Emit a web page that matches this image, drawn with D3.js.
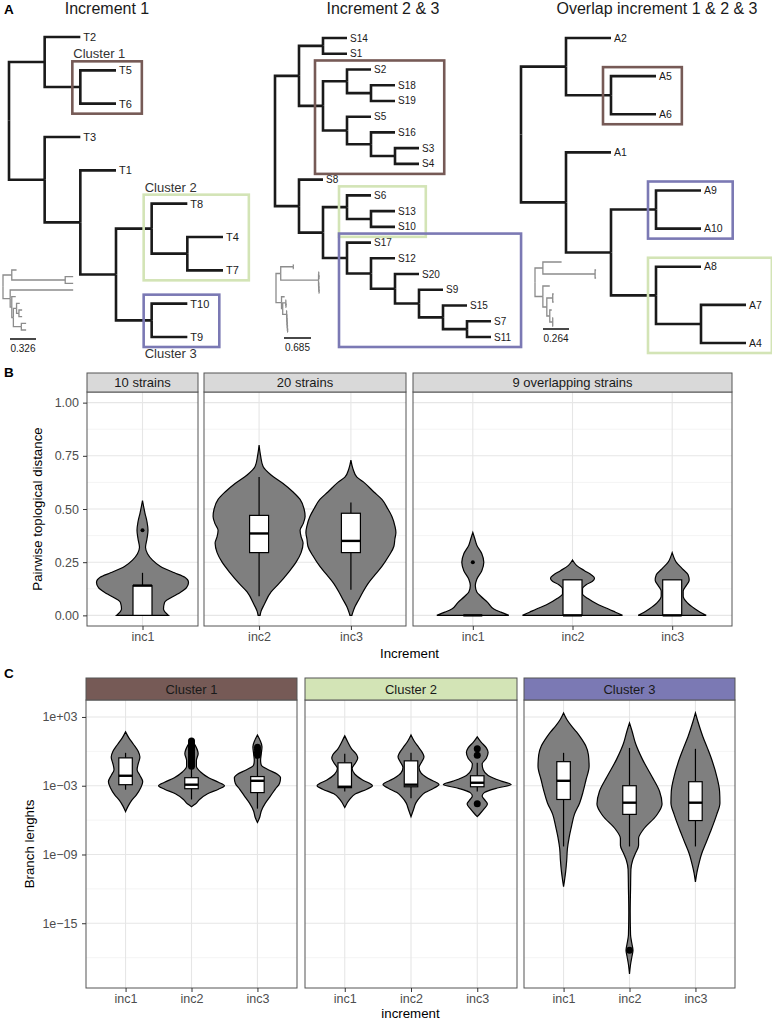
<!DOCTYPE html>
<html>
<head>
<meta charset="utf-8">
<script src="https://cdn.jsdelivr.net/npm/d3@7/dist/d3.min.js"></script>
<style>
body { margin: 0; background: #fff; }
svg text { font-family: "Liberation Sans", Arial, sans-serif; }
</style>
</head>
<body>
<svg width="772" height="1021"></svg>
<script>
// ---------- panel A data: tree topologies (newick) ----------
var tree1 = "((T2,(T5,T6)),(T3,(T1,((T8,(T4,T7)),(T10,T9)))));";
var tree2 = "(((S14,S1),((S2,(S18,S19)),(S5,(S16,(S3,S4))))),(S8,((S6,(S13,S10)),(S17,(S12,(S20,(S9,(S15,(S7,S11)))))))));";
var tree3 = "((A2,(A5,A6)),(A1,((A9,A10),(A8,(A7,A4)))));";

// same trees with branch lengths (small grey phylograms)
var mini1 = "((T2:0.06,(T5:0.10,T6:0.10):0.67):0.11,(T3:0.79,(T1:0.05,((T8:0.04,(T4:0.04,T7:0.04):0.03):0.04,(T10:0.06,T9:0.06):0.10):0.02):0.02):0.09);";
var mini2 = "(((S14:0.01,S1:0.01):0.32,((S2:0.01,(S18:0.005,S19:0.005):0.005):0.005,(S5:0.01,(S16:0.005,(S3:0.005,S4:0.005):0.005):0.005):0.005):0.96):0.12,(S8:0.08,((S6:0.01,(S13:0.005,S10:0.005):0.005):0.08,(S17:0.01,(S12:0.005,(S20:0.005,(S9:0.005,(S15:0.005,(S7:0.005,S11:0.005):0.005):0.005):0.005):0.005):0.005):0.1):0.03):0.14);";
var mini3 = "((A2:0.19,(A5:0.01,A6:0.01):0.53):0.08,(A1:0.07,((A9:0.01,A10:0.01):0.06,(A8:0.02,(A7:0.005,A4:0.005):0.03):0.03):0.04):0.08);";

var scaleBars = [0.326, 0.685, 0.264];
var treeTitles = ["Increment 1", "Increment 2 & 3", "Overlap increment 1 & 2 & 3"];
var clusterNames = ["Cluster 1", "Cluster 2", "Cluster 3"];
var clusterColors = ["#765a56", "#d3e4b6", "#7b79b4"];
// first and last leaf of each cluster, in cluster order
var clusters1 = [["T5", "T6"], ["T8", "T7"], ["T10", "T9"]];
var clusters2 = [["S2", "S4"], ["S6", "S10"], ["S17", "S11"]];
var clusters3 = [["A5", "A6"], ["A8", "A4"], ["A9", "A10"]];

// ---------- panel B data ----------
var bStrips = ["10 strains", "20 strains", "9 overlapping strains"];
var bCats = [["inc1"], ["inc2", "inc3"], ["inc1", "inc2", "inc3"]];
var bTicks = [0, 0.25, 0.5, 0.75, 1];
var bMinor = [0.125, 0.375, 0.625, 0.875];
// violin profiles: [distance, relative density]
var b10inc1 = [[0,.52],[.03,.42],[.06,.44],[.10,.70],[.13,.88],[.155,.92],[.18,.84],[.20,.64],[.23,.36],[.26,.20],[.29,.10],[.32,.06],[.36,.09],[.40,.11],[.44,.09],[.48,.05],[.54,0]];
var b20inc2 = [[0,.02],[.02,.04],[.05,.10],[.11,.24],[.15,.40],[.20,.58],[.25,.74],[.295,.84],[.34,.88],[.37,.84],[.40,.82],[.43,.88],[.465,.92],[.50,.90],[.545,.82],[.58,.68],[.62,.48],[.66,.24],[.70,.08],[.75,.03],[.80,0]];
var b20inc3 = [[0,.02],[.015,.04],[.04,.08],[.075,.16],[.11,.24],[.155,.36],[.19,.48],[.23,.62],[.28,.76],[.325,.86],[.36,.88],[.39,.90],[.42,.88],[.465,.82],[.50,.74],[.545,.62],[.58,.46],[.625,.26],[.65,.12],[.69,.04],[.73,0]];
var b9inc1 = [[0,.72],[.015,.56],[.03,.42],[.06,.30],[.09,.16],[.11,.08],[.14,.05],[.17,.08],[.21,.18],[.25,.22],[.29,.18],[.33,.08],[.36,.04],[.39,0]];
var b9inc2 = [[0,1],[.015,.86],[.03,.72],[.05,.52],[.08,.30],[.10,.20],[.125,.20],[.145,.28],[.16,.40],[.175,.44],[.19,.38],[.21,.24],[.235,.08],[.26,0]];
var b9inc3 = [[0,.68],[.015,.56],[.03,.46],[.06,.30],[.09,.22],[.115,.22],[.14,.28],[.165,.34],[.19,.32],[.22,.20],[.25,.08],[.275,.03],[.295,0]];
// boxplots: [lower whisker, q1, median, q3, upper whisker]
var bBoxes = [[[0, 0, .14, .14, .20]],
              [[.09, .295, .385, .47, .65], [.12, .295, .35, .48, .53]],
              [[0, 0, 0, 0, 0], [0, 0, 0, .167, .167], [0, 0, 0, .167, .167]]];
var bOutliers = [[[.40]], [[], []], [[.25], [], []]];

// ---------- panel C data (log10 of branch length) ----------
var cCats = ["inc1", "inc2", "inc3"];
var cTicks = [3, -3, -9, -15];
var cMinor = [0, -6, -12, -18];
var c1inc1 = [[1.70,0],[1.2,.09],[0.6,.23],[0,.36],[-0.5,.41],[-1.1,.36],[-1.6,.33],[-2.1,.41],[-2.65,.49],[-3.2,.43],[-3.8,.31],[-4.3,.17],[-4.8,.07],[-5.26,0]];
var c1inc2 = [[1.0,0],[0.5,.11],[-0.2,.19],[-0.8,.14],[-1.3,.14],[-1.8,.26],[-2.3,.49],[-2.7,.77],[-3.0,.94],[-3.3,.77],[-3.7,.46],[-4.2,.23],[-4.6,.11],[-4.83,0]];
var c1inc3 = [[1.43,0],[1.0,.07],[0.4,.13],[-0.2,.11],[-0.8,.09],[-1.2,.11],[-1.6,.31],[-2.0,.57],[-2.3,.66],[-2.8,.63],[-3.3,.51],[-3.9,.37],[-4.5,.23],[-5.2,.11],[-5.8,.06],[-6.2,0]];
var c2inc1 = [[1.35,0],[0.8,.09],[0.2,.20],[-0.3,.34],[-0.6,.37],[-1.0,.31],[-1.5,.21],[-2.0,.29],[-2.5,.51],[-2.85,.74],[-3.0,.79],[-3.3,.63],[-3.7,.31],[-4.2,.14],[-4.9,0]];
var c2inc2 = [[1.43,0],[0.9,.09],[0.3,.23],[-0.2,.34],[-0.5,.37],[-0.9,.31],[-1.4,.23],[-1.9,.29],[-2.4,.51],[-2.9,.80],[-3.2,.66],[-3.6,.40],[-4.0,.26],[-4.5,.14],[-5.1,.07],[-5.7,0]];
var c2inc3 = [[1.26,0],[0.8,.11],[0.3,.26],[-0.1,.31],[-0.6,.26],[-1.1,.14],[-1.6,.17],[-2.1,.31],[-2.6,.69],[-2.9,.97],[-3.2,.57],[-3.6,.20],[-3.9,.14],[-4.3,.23],[-4.6,.29],[-5.0,.20],[-5.4,.09],[-5.7,0]];
var c3inc1 = [[3.35,0],[2.8,.09],[2.2,.23],[1.7,.37],[1.2,.49],[0.5,.63],[-0.3,.71],[-1.3,.73],[-2.5,.64],[-3.5,.56],[-4.5,.46],[-5.5,.31],[-6.5,.23],[-7.5,.16],[-8.5,.11],[-9.5,.09],[-10.5,.06],[-11.2,.03],[-11.8,0]];
var c3inc2 = [[2.48,0],[1.8,.07],[0.7,.17],[-0.7,.37],[-2.2,.64],[-3.5,.86],[-4.6,.93],[-5.6,.77],[-6.8,.40],[-7.6,.26],[-8.2,.26],[-8.9,.17],[-9.5,.09],[-10.3,.04],[-12,.03],[-14,.02],[-16,.03],[-16.8,.07],[-17.35,.10],[-17.9,.07],[-18.6,.03],[-19.43,0]];
var c3inc3 = [[3.35,0],[2.6,.07],[1.3,.21],[0.3,.34],[-0.5,.44],[-2.2,.61],[-3.5,.69],[-4.5,.70],[-5.5,.61],[-6.2,.53],[-7.0,.43],[-8.0,.30],[-9.0,.17],[-9.8,.10],[-10.6,.04],[-11.4,0]];
var cBoxes = [[[-3.35, -2.91, -2.13, -0.57, -0.13], [-4.2, -3.26, -2.91, -2.3, -1.35], [-5.0, -3.6, -2.57, -2.2, -0.48]],
              [[-3.5, -3.17, -3.09, -1.0, -0.22], [-4.1, -3.09, -2.91, -0.83, -0.13], [-3.5, -3.09, -2.74, -2.13, -1.0]],
              [[-8.3, -4.2, -2.57, -0.9, -0.13], [-8.3, -5.5, -4.48, -3.0, 0.3], [-8.3, -6.04, -4.48, -2.65, 0.22]]];
var cOutliers = [[[], [0.9, 0.7, 0.5, 0.3, 0.1, -0.1, -0.3, -0.5, -0.7, -0.9, -1.1, -1.3], [0.35, 0.15, -0.1, -0.35]],
                 [[], [], [0.22, -0.35, -4.57]],
                 [[], [-17.35], []]];

// ---------------------------------------------------------------
var svg = d3.select("svg");

function parseNewick(s) {
  var ancestors = [], tree = {}, tokens = s.split(/\s*(;|\(|\)|,|:)\s*/);
  for (var i = 0; i < tokens.length; i++) {
    var token = tokens[i], sub;
    switch (token) {
      case "(": sub = {}; tree.children = [sub]; ancestors.push(tree); tree = sub; break;
      case ",": sub = {}; ancestors[ancestors.length - 1].children.push(sub); tree = sub; break;
      case ")": tree = ancestors.pop(); break;
      case ":": break;
      default:
        var prev = tokens[i - 1];
        if (prev == ")" || prev == "(" || prev == ",") tree.name = token;
        else if (prev == ":") tree.length = parseFloat(token);
    }
  }
  return tree;
}

// cladogram when unit is missing, phylogram (unit px per length) otherwise
function buildTree(newick, xRange, yRange, unit) {
  var root = d3.hierarchy(parseNewick(newick));
  var leaves = root.leaves();
  var y = d3.scaleLinear().domain([0, leaves.length - 1]).range(yRange);
  var x = unit ? d3.scaleLinear().domain([0, 1]).range([xRange[0], xRange[0] + unit])
               : d3.scaleLinear().domain([0, root.height]).range(xRange);
  leaves.forEach(function(d, i) { d.py = y(i); });
  root.eachAfter(function(d) {
    if (d.children) d.py = d3.mean(d.children, function(c) { return c.py; });
  });
  root.eachBefore(function(d) {
    d.dist = !d.parent ? 0 : unit ? d.parent.dist + d.data.length : d.depth;
    d.px = x(d.dist);
  });
  root.xs = x;
  return root;
}

function drawBranches(g, root, colour, width) {
  g.selectAll(null)
    .data(root.descendants().slice(1))
    .enter().append("path")
      .attr("d", function(d) { return "M" + d.parent.px + "," + d.parent.py + "V" + d.py + "H" + d.px; })
      .attr("fill", "none")
      .attr("stroke", colour)
      .attr("stroke-width", width);
}

// layout of the three trees (pixels)
var treeLayout = [
  {x: [9, 223], y: [37, 337], font: 11, title: 107, miniX: 3, miniY: [270, 330], unit: 79.75, bar: [10, 339]},
  {x: [275, 491], y: [38, 337], font: 10, title: 383, miniX: 276, miniY: [265, 332], unit: 39.4, bar: [284, 338]},
  {x: [521, 746], y: [38, 343], font: 10.5, title: 657, miniX: 535, miniY: [262, 326], unit: 98.5, bar: [543, 329]}
];
var trees = [tree1, tree2, tree3], minis = [mini1, mini2, mini3], clusterSets = [clusters1, clusters2, clusters3];

svg.append("text").attr("x", 4).attr("y", 14).attr("font-weight", "bold").attr("font-size", 13.5).text("A");

treeLayout.forEach(function(L, t) {
  var g = svg.append("g");
  g.append("text")
      .attr("x", L.title).attr("y", 14)
      .attr("text-anchor", "middle").attr("font-size", 16).attr("fill", "#1a1a1a")
      .text(treeTitles[t]);

  var root = buildTree(trees[t], L.x, L.y);
  drawBranches(g, root, "#1a1a1a", 2.6);

  var byName = {};
  root.leaves().forEach(function(d) {
    byName[d.data.name] = d;
    var txt = g.append("text")
        .attr("x", d.px + 3).attr("y", d.py)
        .attr("dy", "0.35em")
        .attr("font-size", L.font).attr("fill", "#1a1a1a")
        .text(d.data.name);
    d.labelW = txt.node().getComputedTextLength();
  });

  clusterSets[t].forEach(function(c, k) {
    var a = byName[c[0]], b = byName[c[1]];
    var lca = a.path(b).reduce(function(m, n) { return n.depth < m.depth ? n : m; });
    var lv = lca.leaves();
    var x0 = lca.px - 8,
        x1 = d3.max(lv, function(l) { return l.px + 3 + l.labelW; }) + 10,
        y0 = lv[0].py - 9,
        y1 = lv[lv.length - 1].py + 10;
    g.append("rect")
        .attr("x", x0).attr("y", y0).attr("width", x1 - x0).attr("height", y1 - y0)
        .attr("fill", "none").attr("stroke", clusterColors[k]).attr("stroke-width", 2.6);
    if (t === 0) {
      g.append("text")
          .attr("x", x0 + 1).attr("y", k < 2 ? y0 - 3 : y1 + 11)
          .attr("font-size", 13).attr("fill", "#333")
          .text(clusterNames[k]);
    }
  });

  var mini = buildTree(minis[t], [L.miniX, 0], L.miniY, L.unit);
  drawBranches(g, mini, "#8c8c8c", 1.3);

  var barLen = mini.xs(scaleBars[t]) - mini.xs(0);
  g.append("line")
      .attr("x1", L.bar[0]).attr("x2", L.bar[0] + barLen)
      .attr("y1", L.bar[1]).attr("y2", L.bar[1])
      .attr("stroke", "#1a1a1a").attr("stroke-width", 1.6);
  g.append("text")
      .attr("x", L.bar[0] + barLen / 2).attr("y", L.bar[1] + 12.5)
      .attr("text-anchor", "middle").attr("font-size", 10).attr("fill", "#1a1a1a")
      .text(scaleBars[t]);
});

// ---------------------------------------------------------------
function styleAxis(ax, size) {
  ax.attr("font-family", null).attr("font-size", size);
  ax.select(".domain").remove();
  ax.selectAll(".tick line").attr("stroke", "#333").attr("stroke-width", 1);
  ax.selectAll(".tick text").attr("fill", "#4d4d4d");
}

function facetGrid(o) {
  var area = d3.area().curve(d3.curveMonotoneY)
      .y(function(d) { return o.y(o.val(d[0])); });

  o.panels.forEach(function(p, i) {
    var cats = o.cats[i];
    var x = d3.scalePoint().domain(cats).range(p).padding(0.6);
    var g = svg.append("g");

    g.append("rect")
        .attr("x", p[0]).attr("y", o.top).attr("width", p[1] - p[0]).attr("height", o.bottom - o.top)
        .attr("fill", "#fff");
    g.selectAll(null).data(o.minor).enter().append("line")
        .attr("x1", p[0]).attr("x2", p[1])
        .attr("y1", function(d) { return o.y(o.val(d)); })
        .attr("y2", function(d) { return o.y(o.val(d)); })
        .attr("stroke", "#f1f1f1").attr("stroke-width", 0.8);
    g.selectAll(null).data(o.ticks).enter().append("line")
        .attr("x1", p[0]).attr("x2", p[1])
        .attr("y1", function(d) { return o.y(o.val(d)); })
        .attr("y2", function(d) { return o.y(o.val(d)); })
        .attr("stroke", "#e6e6e6").attr("stroke-width", 1.1);
    g.selectAll(null).data(cats).enter().append("line")
        .attr("x1", function(d) { return x(d); }).attr("x2", function(d) { return x(d); })
        .attr("y1", o.top).attr("y2", o.bottom)
        .attr("stroke", "#e6e6e6").attr("stroke-width", 1.1);

    o.violins[i].forEach(function(v, j) {
      var cx = x(cats[j]);
      g.append("path").datum(v)
          .attr("d", area
            .x0(function(d) { return cx - o.dens(d[1]); })
            .x1(function(d) { return cx + o.dens(d[1]); }))
          .attr("fill", "#7f7f7f").attr("stroke", "#000").attr("stroke-width", 1.2);

      var b = o.boxes[i][j].map(function(d) { return o.y(o.val(d)); }), w = o.boxW / 2;
      g.append("line").attr("x1", cx).attr("x2", cx).attr("y1", b[4]).attr("y2", b[3])
          .attr("stroke", "#000").attr("stroke-width", 1.2);
      g.append("line").attr("x1", cx).attr("x2", cx).attr("y1", b[1]).attr("y2", b[0])
          .attr("stroke", "#000").attr("stroke-width", 1.2);
      g.append("rect")
          .attr("x", cx - w).attr("y", b[3]).attr("width", 2 * w).attr("height", b[1] - b[3])
          .attr("fill", "#fff").attr("stroke", "#000").attr("stroke-width", 1.2);
      g.append("line").attr("x1", cx - w).attr("x2", cx + w).attr("y1", b[2]).attr("y2", b[2])
          .attr("stroke", "#000").attr("stroke-width", 2.4);
      g.selectAll(null).data(o.outliers[i][j]).enter().append("circle")
          .attr("cx", cx)
          .attr("cy", function(d) { return o.y(o.val(d)); })
          .attr("r", o.ptR)
          .attr("fill", "#000");
    });

    g.append("rect")
        .attr("x", p[0]).attr("y", o.top).attr("width", p[1] - p[0]).attr("height", o.bottom - o.top)
        .attr("fill", "none").attr("stroke", "#555").attr("stroke-width", 1);
    g.append("rect")
        .attr("x", p[0]).attr("y", o.stripTop).attr("width", p[1] - p[0]).attr("height", o.top - o.stripTop)
        .attr("fill", o.stripFill[i]).attr("stroke", "#555").attr("stroke-width", 1);
    g.append("text")
        .attr("x", (p[0] + p[1]) / 2).attr("y", (o.stripTop + o.top) / 2)
        .attr("dy", "0.36em").attr("text-anchor", "middle")
        .attr("font-size", 13).attr("fill", "#1a1a1a")
        .text(o.strips[i]);

    var ax = g.append("g")
        .attr("transform", "translate(0," + o.bottom + ")")
        .call(d3.axisBottom(x).tickSize(4).tickPadding(2));
    styleAxis(ax, 12.5);

    if (i === 0) {
      var ay = g.append("g")
          .attr("transform", "translate(" + p[0] + ",0)")
          .call(d3.axisLeft(o.y).tickValues(o.ticks.map(o.val)).tickFormat(o.fmt).tickSize(4).tickPadding(o.pad));
      styleAxis(ay, 12.5);
    }
  });

  var mid = (o.panels[0][0] + o.panels[o.panels.length - 1][1]) / 2;
  svg.append("text")
      .attr("x", mid).attr("y", o.xTitleY)
      .attr("text-anchor", "middle").attr("font-size", 13.3)
      .text(o.xTitle);
  svg.append("text")
      .attr("transform", "translate(" + o.yTitleX + "," + (o.top + o.bottom) / 2 + ") rotate(-90)")
      .attr("text-anchor", "middle").attr("font-size", 13.3)
      .text(o.yTitle);
}

// ---------- panel B ----------
svg.append("text").attr("x", 4).attr("y", 377).attr("font-weight", "bold").attr("font-size", 13.5).text("B");
facetGrid({
  panels: [[87, 198], [204, 406], [413, 732]],
  stripTop: 373, top: 392, bottom: 626,
  strips: bStrips, stripFill: ["#d9d9d9", "#d9d9d9", "#d9d9d9"],
  cats: bCats,
  y: d3.scaleLinear().domain([-0.05, 1.05]).range([626, 392]),
  val: function(d) { return d; },
  ticks: bTicks, minor: bMinor,
  fmt: d3.format(".2f"), pad: 4,
  dens: d3.scaleLinear().domain([0, 1]).range([0, 50]),
  violins: [[b10inc1], [b20inc2, b20inc3], [b9inc1, b9inc2, b9inc3]],
  boxes: bBoxes, outliers: bOutliers,
  boxW: 19, ptR: 2,
  xTitle: "Increment", xTitleY: 658,
  yTitle: "Pairwise toplogical distance", yTitleX: 42
});

// ---------- panel C ----------
svg.append("text").attr("x", 4).attr("y", 678).attr("font-weight", "bold").attr("font-size", 13.5).text("C");
facetGrid({
  panels: [[86, 297], [305, 517], [524, 735]],
  stripTop: 678, top: 700, bottom: 988,
  strips: clusterNames, stripFill: clusterColors,
  cats: [cCats, cCats, cCats],
  y: d3.scaleLog().domain([Math.pow(10, -20.65), Math.pow(10, 4.48)]).range([988, 700]),
  val: function(e) { return Math.pow(10, e); },
  ticks: cTicks, minor: cMinor,
  fmt: function(d) {
    var e = Math.round(Math.log10(d));
    return "1e" + (e < 0 ? "\u2212" : "+") + d3.format("02d")(Math.abs(e));
  },
  pad: 4.5,
  dens: d3.scaleLinear().domain([0, 1]).range([0, 35]),
  violins: [[c1inc1, c1inc2, c1inc3], [c2inc1, c2inc2, c2inc3], [c3inc1, c3inc2, c3inc3]],
  boxes: cBoxes, outliers: cOutliers,
  boxW: 13.5, ptR: 3.5,
  xTitle: "increment", xTitleY: 1018,
  yTitle: "Branch lenghts", yTitleX: 34
});
</script>
</body>
</html>
